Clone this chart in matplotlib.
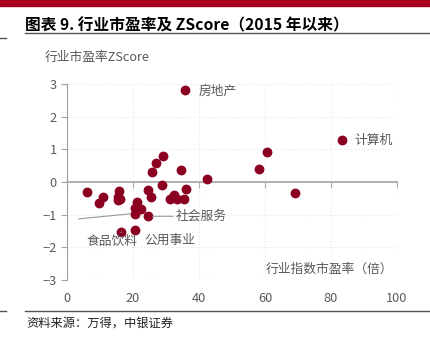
import numpy as np
import matplotlib.pyplot as plt
from matplotlib.lines import Line2D

plt.rcParams['font.family'] = ['Noto Sans CJK SC', 'DejaVu Sans']

# 行业指数市盈率（倍） vs ZScore
pe = [6.1, 10.9, 9.6, 15.7, 15.4, 16.2, 15.6, 21.2, 20.7, 22.3, 20.5, 24.6,
      16.5, 20.6, 24.5, 25.4, 25.7, 27.1, 29.0, 28.8, 31.2, 32.4, 33.4, 35.4,
      36.2, 34.6, 42.3, 35.9, 83.4, 60.7, 58.1, 69.2]
zscore = [-0.32, -0.45, -0.63, -0.28, -0.45, -0.53, -0.55, -0.60, -0.81, -0.84,
          -0.98, -1.05, -1.53, -1.48, -0.24, -0.47, 0.32, 0.57, 0.80, -0.09,
          -0.53, -0.40, -0.53, -0.51, -0.22, 0.37, 0.08, 2.81, 1.30, 0.91,
          0.39, -0.34]

# labelled industries: name, point, label position
labels = ['房地产', '计算机', '社会服务', '食品饮料', '公用事业']
label_pts = [(35.9, 2.81), (83.4, 1.30), (24.6, -1.05), (16.5, -1.53), (20.6, -1.48)]
label_pos = [(40.0, 2.78), (87.0, 1.27), (33.0, -1.05), (6.0, -1.83), (23.5, -1.80)]
leader = [False, False, True, True, False]

xticks = [0, 20, 40, 60, 80, 100]
yticks = [-3, -2, -1, 0, 1, 2, 3]

red = '#8B0021'
grey = '#595959'
fs = 9.2

fig = plt.figure(figsize=(4.30, 3.39), dpi=100)

# header band and rules
fig.patches.append(plt.Rectangle((0, 1 - 6 / 339), 1, 6 / 339, transform=fig.transFigure,
                                 color='#A6001E', zorder=0))
for y0, y1, x0, x1 in [(306 / 339, 306 / 339, 25 / 430, 1), (301 / 339, 301 / 339, 0, 6 / 430),
                       (28 / 339, 28 / 339, 25 / 430, 1), (28 / 339, 28 / 339, 0, 6 / 430)]:
    fig.add_artist(Line2D([x0, x1], [y0, y1], color='#555555', lw=1.0))

fig.text(25 / 430, 1 - 25 / 339, '图表 9. 行业市盈率及 ZScore（2015 年以来）',
         fontsize=11.3, fontweight='bold', color='black', va='center', ha='left')
fig.text(26 / 430, 1 - 323 / 339, '资料来源：万得，中银证券', fontsize=8.8,
         color='#222222', va='center', ha='left')
fig.text(45 / 430, 1 - 57 / 339, '行业市盈率ZScore', fontsize=fs, color=grey,
         va='center', ha='left')

ax = fig.add_axes([67 / 430, 59 / 339, 330 / 430, 196 / 339])
ax.scatter(pe, zscore, s=50, color=red, zorder=3, linewidths=0)

for name, pt, pos, ld in zip(labels, label_pts, label_pos, leader):
    if ld:
        ax.annotate(name, xy=pt, xytext=pos, fontsize=fs, color=grey, va='center',
                    ha='left', arrowprops=dict(arrowstyle='-', color='#999999', lw=0.8,
                                               shrinkA=0, shrinkB=3))
    else:
        ax.annotate(name, xy=pt, xytext=pos, fontsize=fs, color=grey, va='center', ha='left')

# stray leader line left from the chart
ax.annotate('', xy=(20.5, -0.96), xytext=(3.5, -1.13),
            arrowprops=dict(arrowstyle='-', color='#999999', lw=0.8, shrinkA=0, shrinkB=3))

ax.text(98.8, -2.66, '行业指数市盈率（倍）', fontsize=fs, color=grey, ha='right', va='center')

ax.set_xlim(0, 100)
ax.set_ylim(-3, 3)
ax.set_xticks(xticks)
ax.set_yticks(yticks)
ax.grid(True, color='#E8E8E8', linestyle=':', lw=0.8)
ax.set_axisbelow(True)

for s in ['top', 'right']:
    ax.spines[s].set_visible(False)
ax.spines['left'].set_color('#A0A0A0')
ax.spines['bottom'].set_position(('data', 0))
ax.spines['bottom'].set_color('#B0B0B0')
ax.spines['bottom'].set_linewidth(1.4)
ax.tick_params(axis='y', colors='#A0A0A0', labelcolor=grey, labelsize=fs, length=4, width=0.8)
ax.tick_params(axis='x', colors='#B0B0B0', labelbottom=False, length=4, width=0.8)

sec = ax.secondary_xaxis('bottom')
sec.set_xticks(xticks)
sec.spines['bottom'].set_visible(False)
sec.tick_params(length=0, labelcolor=grey, labelsize=fs, pad=9)

fig.savefig('out.png', dpi=100)
